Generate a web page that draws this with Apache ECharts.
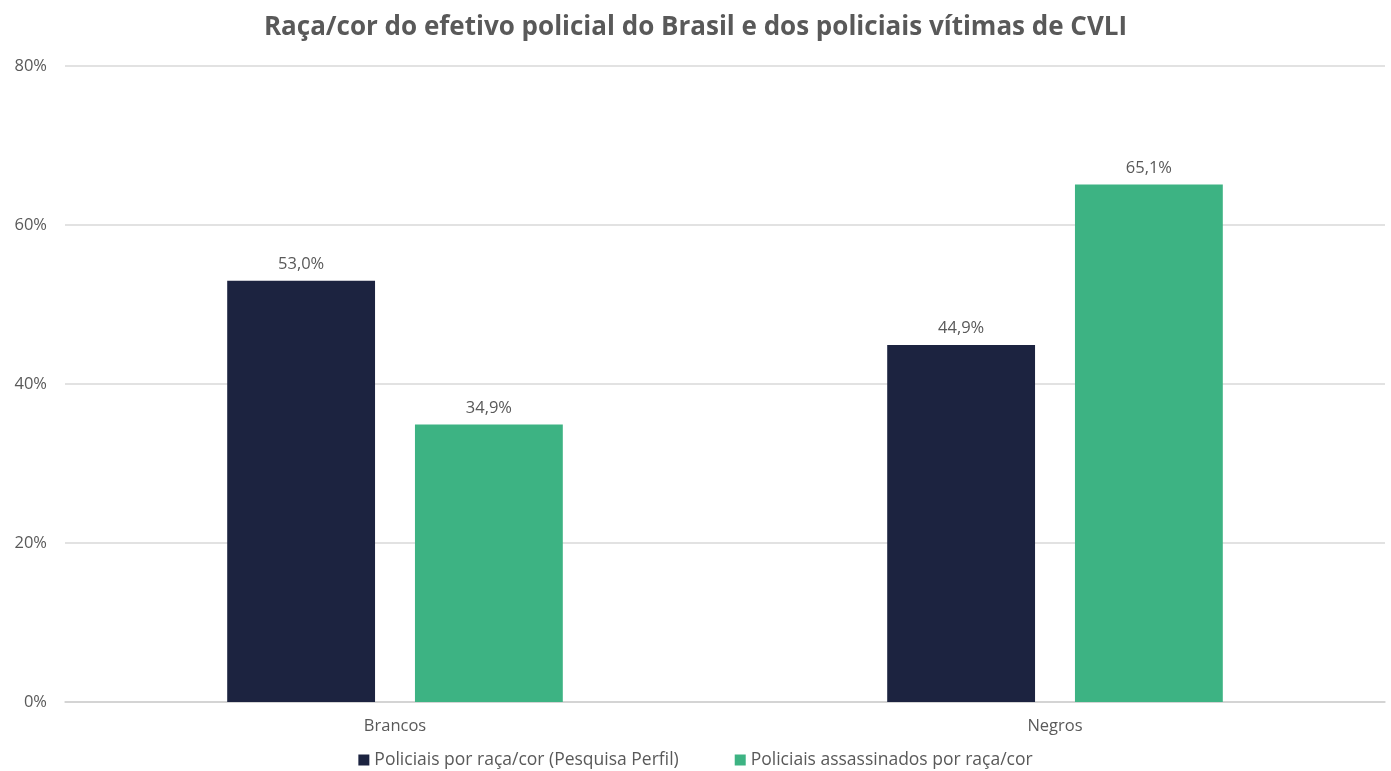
<!DOCTYPE html>
<html><head><meta charset="utf-8">
<script src="https://cdn.jsdelivr.net/npm/echarts@6/dist/echarts.min.js"></script>
<style>html,body{margin:0;padding:0;background:#fff}#c{width:1391px;height:771px}</style>
</head><body><div id="c"></div>
<script>
const title = 'Raça/cor do efetivo policial do Brasil e dos policiais vítimas de CVLI';
const categories = ['Brancos', 'Negros'];
const seriesNames = ['Policiais por raça/cor (Pesquisa Perfil)', 'Policiais assassinados por raça/cor'];
const efetivo = [53.0, 44.9];
const assassinados = [34.9, 65.1];
const colors = ['#1c2340', '#3db383'];
const yTicks = [0, 20, 40, 60, 80];

const font = '"Open Sans", Lato, sans-serif';
const chart = echarts.init(document.getElementById('c'));
const fmt = v => v.toFixed(1).replace('.', ',') + '%';
const txt = {fontFamily: font, fontSize: 16.5, color: '#595959'};
chart.setOption({
  animation: false,
  title: {text: title, left: 'center', top: 10,
    textStyle: {fontFamily: font, fontSize: 26, fontWeight: 'bold', color: '#595959'}},
  grid: {left: 65, right: 6, top: 66, bottom: 69, containLabel: false},
  legend: {top: 751, padding: 0, itemWidth: 11, itemHeight: 11, itemGap: 56, icon: 'rect',
    textStyle: Object.assign({}, txt, {fontSize: 17.5})},
  xAxis: {type: 'category', data: categories,
    axisLine: {lineStyle: {color: '#d0d0d0', width: 1.5}}, axisTick: {show: false},
    axisLabel: Object.assign({margin: 16}, txt)},
  yAxis: {type: 'value', min: yTicks[0], max: yTicks[yTicks.length - 1], interval: 20,
    axisLine: {show: false}, axisTick: {show: false},
    splitLine: {lineStyle: {color: '#d9d9d9', width: 1.5}},
    axisLabel: Object.assign({margin: 18, formatter: '{value}%'}, txt)},
  series: [
    {name: seriesNames[0], type: 'bar', data: efetivo, barWidth: '22.4%', barGap: '27%',
     itemStyle: {color: colors[0]},
     label: Object.assign({show: true, position: 'top', distance: 8, formatter: p => fmt(p.value)}, txt)},
    {name: seriesNames[1], type: 'bar', data: assassinados, barWidth: '22.4%',
     itemStyle: {color: colors[1]},
     label: Object.assign({show: true, position: 'top', distance: 8, formatter: p => fmt(p.value)}, txt)}
  ]
});
</script></body></html>
